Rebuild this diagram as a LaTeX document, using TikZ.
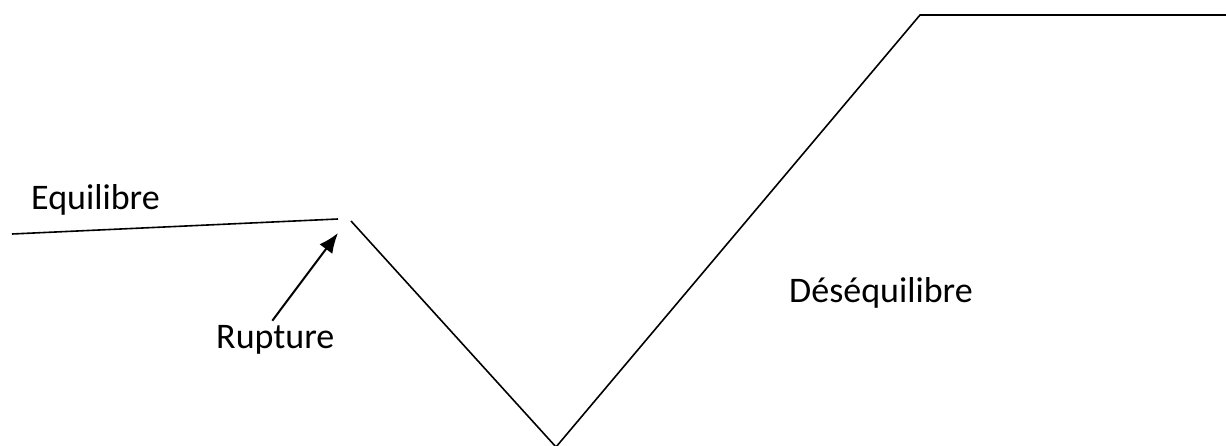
\documentclass[tikz,border=0pt]{standalone}
\usepackage{fontspec}
\setmainfont{Carlito}
\usepackage{tikz}
\usetikzlibrary{arrows.meta,positioning,calc}

\begin{document}
\begin{tikzpicture}[x=1pt,y=-1pt,font=\fontsize{36}{40}\selectfont,>={Latex[length=20pt,width=16pt]},
  trend/.style={line width=1.6pt},
  lbl/.style={anchor=base west,inner sep=0pt}]
\useasboundingbox (0,0) rectangle (1226,446);
% points of the curve
\coordinate (eqa) at (12,234);
\coordinate (brk) at (338,219);
\coordinate (dwn) at (351,221);
\coordinate (low) at (556,447);
\coordinate (top) at (920,15);
\coordinate (end) at (1226,15);
\draw[trend] (eqa)--(brk);
\draw[trend] (dwn)--(low)--(top)--(end);
% labels
\node[lbl] (equi) at (31,210){Equilibre};
\node[lbl] (rupt) at (216,348){Rupture};
\node[lbl] (deseq) at (789,303){Déséquilibre};
\coordinate (tip) at (338,233);
\draw[->,line width=2pt] ($(rupt.north)+(-3,-4)$) -- (tip);
\end{tikzpicture}
\end{document}
